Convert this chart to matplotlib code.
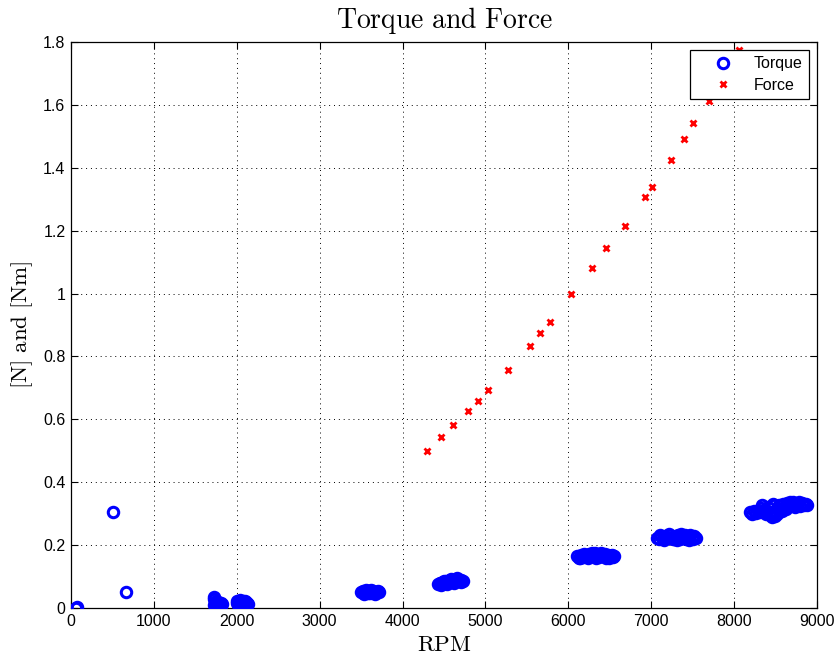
import matplotlib
import matplotlib.pyplot as plt
import numpy as np
from matplotlib.ticker import FormatStrFormatter, MultipleLocator

matplotlib.use("Agg")

# ---- data ----
force_rpm = [4294, 4463, 4608, 4789, 4910, 5030, 5271, 5537, 5657, 5778, 6031,
             6285, 6454, 6683, 6924, 7008, 7238, 7394, 7503, 7696, 8058]
force_val = [0.499, 0.544, 0.582, 0.627, 0.659, 0.693, 0.757, 0.833, 0.875, 0.910, 0.999,
             1.081, 1.145, 1.215, 1.307, 1.339, 1.425, 1.491, 1.542, 1.612, 1.774]

torque_rpm_low = [62, 75, 507, 663]
torque_low = [0.000, 0.002, 0.305, 0.050]

torque_rpm_1700 = [1722, 1728, 1735, 1742, 1750, 1758, 1766, 1775, 1784, 1793,
                   1802, 1811, 1820, 1730, 1745, 1760, 1778, 1796, 1814]
torque_1700 = [0.036, 0.028, 0.020, 0.012, 0.006, 0.004, 0.008, 0.012, 0.006, 0.010,
               0.014, 0.008, 0.012, 0.010, 0.022, 0.016, 0.018, 0.004, 0.016]

torque_rpm_2000 = [1998, 2008, 2018, 2028, 2038, 2048, 2058, 2068, 2078, 2088,
                   2098, 2108, 2118, 2130, 2012, 2034, 2056, 2080, 2104]
torque_2000 = [0.015, 0.022, 0.018, 0.012, 0.020, 0.016, 0.010, 0.018, 0.022, 0.014,
               0.012, 0.018, 0.016, 0.014, 0.008, 0.024, 0.020, 0.010, 0.022]

torque_rpm_3600 = [3505, 3520, 3535, 3550, 3565, 3580, 3595, 3610, 3625, 3640,
                   3655, 3670, 3685, 3700, 3715, 3530, 3575, 3620, 3665]
torque_3600 = [0.050, 0.054, 0.048, 0.052, 0.056, 0.049, 0.053, 0.047, 0.051, 0.055,
               0.050, 0.046, 0.052, 0.054, 0.050, 0.046, 0.055, 0.056, 0.048]

torque_rpm_4600 = [4430, 4450, 4470, 4490, 4510, 4530, 4550, 4570, 4590, 4610, 4630, 4650,
                   4670, 4690, 4710, 4725, 4460, 4500, 4540, 4580, 4620, 4660, 4700]
torque_4600 = [0.075, 0.080, 0.078, 0.083, 0.080, 0.086, 0.082, 0.088, 0.084, 0.090, 0.086, 0.092,
               0.088, 0.086, 0.090, 0.085, 0.073, 0.087, 0.077, 0.092, 0.081, 0.094, 0.082]

torque_rpm_6300 = [6100, 6125, 6150, 6175, 6200, 6225, 6250, 6275, 6300, 6325, 6350, 6375, 6400, 6425,
                   6450, 6475, 6500, 6525, 6555, 6140, 6190, 6240, 6290, 6340, 6390, 6440, 6490, 6540]
torque_6300 = [0.165, 0.160, 0.168, 0.162, 0.170, 0.164, 0.172, 0.166, 0.170, 0.174, 0.168, 0.163, 0.171, 0.166,
               0.160, 0.168, 0.164, 0.169, 0.166, 0.158, 0.171, 0.160, 0.175, 0.159, 0.174, 0.172, 0.160, 0.162]

torque_rpm_7300 = [7070, 7095, 7120, 7145, 7170, 7195, 7220, 7245, 7270, 7295, 7320, 7345, 7370, 7395, 7420,
                   7445, 7470, 7495, 7520, 7540, 7110, 7160, 7210, 7260, 7310, 7360, 7410, 7460, 7510]
torque_7300 = [0.224, 0.218, 0.228, 0.220, 0.230, 0.222, 0.232, 0.224, 0.218, 0.228, 0.232, 0.221, 0.226, 0.230, 0.219,
               0.226, 0.232, 0.222, 0.228, 0.224, 0.232, 0.215, 0.234, 0.218, 0.216, 0.234, 0.233, 0.216, 0.219]

torque_rpm_8500 = [8190, 8215, 8240, 8265, 8290, 8315, 8340, 8365, 8390, 8415, 8440, 8465, 8490, 8515, 8540,
                   8565, 8590, 8615, 8640, 8665, 8690, 8715, 8740, 8765, 8790, 8815, 8840, 8865, 8880,
                   8330, 8380, 8430, 8480, 8530, 8580, 8630, 8680, 8730, 8780, 8830, 8460, 8500]
torque_8500 = [0.305, 0.300, 0.308, 0.302, 0.310, 0.304, 0.328, 0.312, 0.298, 0.322, 0.306, 0.330, 0.310, 0.300, 0.326,
               0.316, 0.332, 0.320, 0.334, 0.324, 0.330, 0.336, 0.326, 0.332, 0.324, 0.334, 0.328, 0.330, 0.326,
               0.318, 0.305, 0.296, 0.328, 0.318, 0.310, 0.314, 0.336, 0.322, 0.336, 0.332, 0.288, 0.292]

x_ticks = [0, 1000, 2000, 3000, 4000, 5000, 6000, 7000, 8000, 9000]

torque_rpm = np.concatenate([torque_rpm_low, torque_rpm_1700, torque_rpm_2000, torque_rpm_3600,
                             torque_rpm_4600, torque_rpm_6300, torque_rpm_7300, torque_rpm_8500])
torque_val = np.concatenate([torque_low, torque_1700, torque_2000, torque_3600,
                             torque_4600, torque_6300, torque_7300, torque_8500])

# ---- plot ----
plt.rcParams["font.family"] = ["Liberation Sans", "DejaVu Sans"]
plt.rcParams["mathtext.fontset"] = "cm"

fig = plt.figure(figsize=(8.37, 6.59), dpi=100)
ax = fig.add_axes([0.0848, 0.0774, 0.8912, 0.8588])

ax.plot(torque_rpm, torque_val, "o", mfc="none", mec="#0000ff", ms=7.5, mew=2.2,
        label="Torque", zorder=3)
ax.plot(force_rpm, force_val, "x", color="#ff0000", ms=4.5, mew=2.0,
        label="Force", zorder=3)

ax.set_xlim(0, 9000)
ax.set_ylim(0, 1.8)
ax.set_xticks(x_ticks)
ax.yaxis.set_major_locator(MultipleLocator(0.2))
ax.yaxis.set_major_formatter(FormatStrFormatter("%g"))
ax.tick_params(direction="in", length=5, width=0.8, top=True, right=True,
               labelsize=11.5, pad=4)
ax.grid(True, color="black", linestyle=(0, (1, 4)), linewidth=0.7)
for s in ax.spines.values():
    s.set_linewidth(0.9)

ax.set_title(r"$\mathrm{Torque\ and\ Force}$", fontsize=20, pad=10)
ax.set_xlabel(r"$\mathrm{RPM}$", fontsize=16.5, labelpad=3)
ax.set_ylabel(r"$\mathrm{[N]\ and\ [Nm]}$", fontsize=16.5, labelpad=6)

leg = ax.legend(loc="upper right", fontsize=11.5, fancybox=False, framealpha=1,
                edgecolor="black", borderaxespad=0.5, handlelength=3.4,
                handletextpad=0.2, borderpad=0.4, labelspacing=0.4)
leg.get_frame().set_linewidth(0.9)

plt.savefig("out.png", dpi=100)
plt.close()
